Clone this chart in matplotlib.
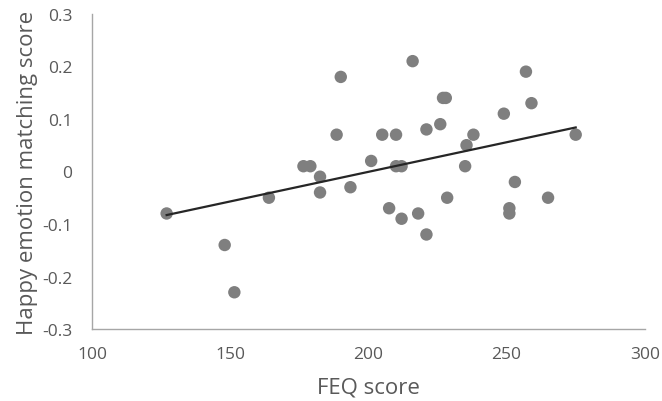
import numpy as np
import matplotlib
matplotlib.use("Agg")
import matplotlib.pyplot as plt
from matplotlib.ticker import FuncFormatter

plt.rcParams['font.family'] = ['Open Sans', 'DejaVu Sans']

feq = [127, 148, 151.5, 164, 176.5, 179, 182.5, 182.5, 190, 188.5, 193.5, 201, 205, 207.5,
       210, 210, 212, 212, 216, 218, 221, 221, 226, 227, 228, 228.5, 235, 235.5, 238,
       249, 251, 251, 253, 257, 259, 265, 275]
happy = [-0.08, -0.14, -0.23, -0.05, 0.01, 0.01, -0.01, -0.04, 0.18, 0.07, -0.03, 0.02, 0.07, -0.07,
         0.07, 0.01, 0.01, -0.09, 0.21, -0.08, 0.08, -0.12, 0.09, 0.14, 0.14, -0.05, 0.01, 0.05, 0.07,
         0.11, -0.07, -0.08, -0.02, 0.19, 0.13, -0.05, 0.07]

x_ticks = [100, 150, 200, 250, 300]
y_ticks = [-0.3, -0.2, -0.1, 0, 0.1, 0.2, 0.3]

fig = plt.figure(figsize=(6.62, 4.02), dpi=100)
ax = fig.add_axes([0.139, 0.179, 0.835, 0.784])

ax.scatter(feq, happy, s=80, color='#7f7f7f', edgecolors='none', zorder=2)
slope, intercept = np.polyfit(feq, happy, 1)
xs = np.array([min(feq), max(feq)])
ax.plot(xs, slope * xs + intercept, color='#262626', lw=1.6, zorder=3)

ax.set_xlim(100, 300)
ax.set_ylim(-0.3, 0.3)
ax.set_xticks(x_ticks)
ax.set_yticks(y_ticks)
ax.yaxis.set_major_formatter(FuncFormatter(lambda v, p: '0' if abs(v) < 1e-9 else f'{v:.1f}'))
for s in ['top', 'right']:
    ax.spines[s].set_visible(False)
for s in ['left', 'bottom']:
    ax.spines[s].set_color('#a6a6a6')
    ax.spines[s].set_linewidth(1.0)
ax.tick_params(length=0, labelsize=12.5, colors='#595959')
ax.tick_params(axis='y', pad=14)
ax.tick_params(axis='x', pad=12)
ax.set_xlabel('FEQ score', fontsize=16, color='#595959', labelpad=11)
ax.set_ylabel('Happy emotion matching score', fontsize=16, color='#595959', labelpad=3)

fig.savefig('out.png', dpi=100)
